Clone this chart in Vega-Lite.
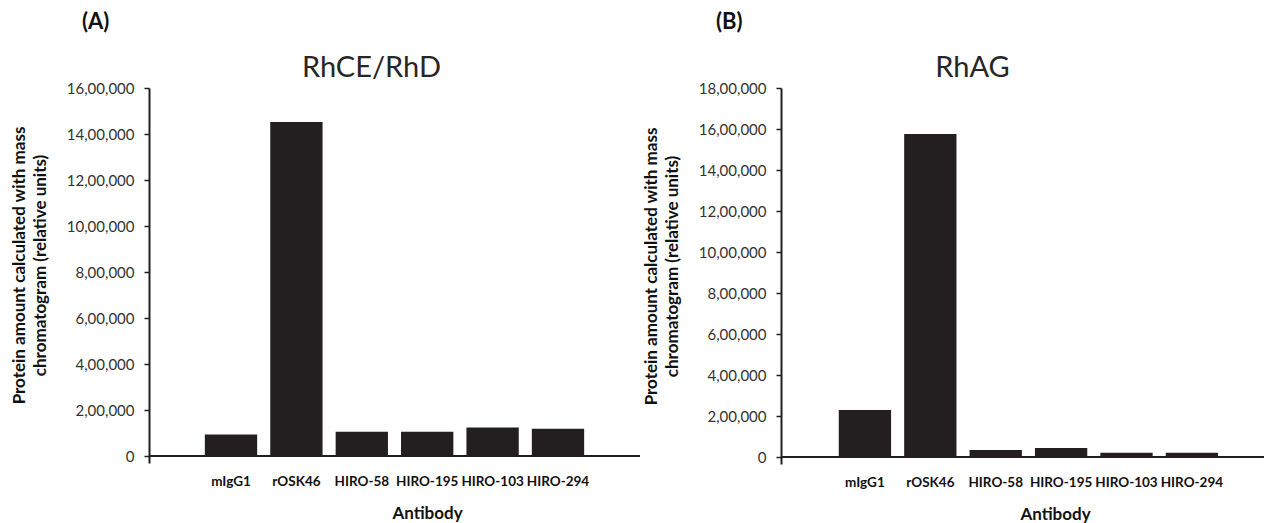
{
  "$schema": "https://vega.github.io/schema/vega-lite/v6.json",
  "padding": {"left": 10, "top": 11, "right": 0, "bottom": 0},
  "background": "white",
  "datasets": {
    "rhce": [
      {"antibody": "mIgG1", "amount": 94000},
      {"antibody": "rOSK46", "amount": 1452000},
      {"antibody": "HIRO-58", "amount": 106000},
      {"antibody": "HIRO-195", "amount": 106000},
      {"antibody": "HIRO-103", "amount": 124000},
      {"antibody": "HIRO-294", "amount": 119000}
    ],
    "rhag": [
      {"antibody": "mIgG1", "amount": 229000},
      {"antibody": "rOSK46", "amount": 1576000},
      {"antibody": "HIRO-58", "amount": 34000},
      {"antibody": "HIRO-195", "amount": 44000},
      {"antibody": "HIRO-103", "amount": 21000},
      {"antibody": "HIRO-294", "amount": 21000}
    ]
  },
  "spacing": 1,
  "hconcat": [
    {
      "title": {"text": "(A)", "anchor": "start", "frame": "bounds", "dx": 72, "fontSize": 22, "fontWeight": "bold", "color": "#111111", "offset": 20},
      "vconcat": [
        {
          "width": 491,
          "height": 375,
          "title": {"text": "RhCE/RhD", "anchor": "middle", "frame": "group", "dx": -23, "fontSize": 29, "fontWeight": "normal", "color": "#262626", "offset": -2},
          "data": {"name": "rhce"},
          "encoding": {
            "x": {
              "field": "antibody", "type": "nominal",
              "sort": ["mIgG1", "rOSK46", "HIRO-58", "HIRO-195", "HIRO-103", "HIRO-294"],
              "scale": {"paddingInner": 0.2, "paddingOuter": 0.854, "align": 0.5},
              "axis": {"title": "Antibody", "titleX": 278, "labelAngle": 0, "domain": false, "ticks": false, "labelPadding": 11, "titlePadding": 18}
            },
            "y": {
              "field": "amount", "type": "quantitative",
              "scale": {"domain": [-30000, 1600000], "nice": false, "zero": false},
              "axis": {
                "title": ["Protein amount calculated with mass", "chromatogram (relative units)"],
                "values": [0, 200000, 400000, 600000, 800000, 1000000, 1200000, 1400000, 1600000],
                "labelExpr": "datum.value == 0 ? '0' : floor(datum.value / 100000) + ',00,000'",
                "titleY": 177,
                "minExtent": 83, "maxExtent": 83, "titlePadding": 17
              }
            }
          },
          "layer": [
            {"mark": {"type": "bar", "color": "#231f20"}},
            {"mark": {"type": "rule", "color": "#231f20", "strokeWidth": 2}, "encoding": {"y": {"datum": 0}, "x": null}}
          ]
        }
      ]
    },
    {
      "title": {"text": "(B)", "anchor": "start", "frame": "bounds", "dx": 74, "fontSize": 22, "fontWeight": "bold", "color": "#111111", "offset": 20},
      "vconcat": [
        {
          "width": 483,
          "height": 376,
          "title": {"text": "RhAG", "anchor": "middle", "frame": "group", "dx": -50, "fontSize": 29, "fontWeight": "normal", "color": "#262626", "offset": -2},
          "data": {"name": "rhag"},
          "encoding": {
            "x": {
              "field": "antibody", "type": "nominal",
              "sort": ["mIgG1", "rOSK46", "HIRO-58", "HIRO-195", "HIRO-103", "HIRO-294"],
              "scale": {"paddingInner": 0.2, "paddingOuter": 0.793, "align": 0.557},
              "axis": {"title": "Antibody", "titleX": 274, "labelAngle": 0, "domain": false, "ticks": false, "labelPadding": 11, "titlePadding": 18}
            },
            "y": {
              "field": "amount", "type": "quantitative",
              "scale": {"domain": [-34000, 1800000], "nice": false, "zero": false},
              "axis": {
                "title": ["Protein amount calculated with mass", "chromatogram (relative units)"],
                "values": [0, 200000, 400000, 600000, 800000, 1000000, 1200000, 1400000, 1600000, 1800000],
                "labelExpr": "datum.value == 0 ? '0' : floor(datum.value / 100000) + ',00,000'",
                "titleY": 178,
                "minExtent": 83, "maxExtent": 83, "titlePadding": 17
              }
            }
          },
          "layer": [
            {"mark": {"type": "bar", "color": "#231f20"}},
            {"mark": {"type": "rule", "color": "#231f20", "strokeWidth": 2}, "encoding": {"y": {"datum": 0}, "x": null}}
          ]
        }
      ]
    }
  ],
  "config": {
    "font": "Lato",
    "view": {"stroke": null},
    "axis": {
      "grid": false,
      "domainColor": "#231f20",
      "domainWidth": 2,
      "tickColor": "#231f20",
      "tickWidth": 1.5,
      "tickSize": 5,
      "labelPadding": 10,
      "labelFontSize": 15,
      "labelColor": "#333333",
      "titleFontSize": 17,
      "titleFontWeight": "bold",
      "titleColor": "#111111",
      "titleLineHeight": 21
    },
    "axisX": {"labelFontSize": 13.5, "labelFontWeight": "bold", "labelColor": "#111111", "titleAngle": 0},
    "axisY": {"titleAngle": -90}
  }
}
